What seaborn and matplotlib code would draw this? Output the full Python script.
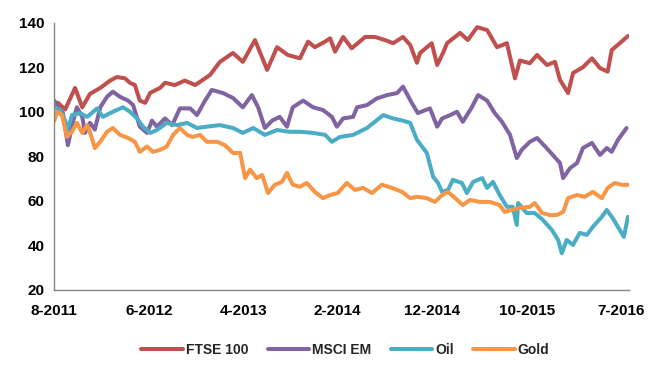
import matplotlib
matplotlib.use("Agg")
import matplotlib.pyplot as plt
import pandas as pd
import seaborn as sns

# trading-day index (0 = Aug 2011) and rebased values
ftse_day = [0, 8, 24, 46, 62, 79, 102, 124, 139, 157, 168, 179, 190, 202, 213, 235,
            246, 268, 290, 313, 324, 346, 368, 397, 419, 446, 473, 495, 519, 546,
            564, 579, 602, 613, 624, 642, 661, 691, 713, 735, 753, 775, 791, 806,
            813, 839, 851, 864, 873, 902, 919, 940, 962, 984, 1006, 1024, 1035,
            1057, 1073, 1095, 1113, 1124, 1142, 1153, 1175, 1195, 1213, 1230, 1239,
            1257, 1275]
ftse = [104, 104, 101, 110.7, 102, 108, 110.7, 114, 115.6, 115, 113, 112, 105, 104,
        108.5, 110.7, 113, 112, 114, 112, 113.5, 116.5, 122.4, 126.4, 122.4, 132.2,
        118.8, 129, 125.5, 124, 131.5, 129, 131.5, 133, 127, 133.6, 128.5, 133.6,
        133.6, 132.2, 130.8, 133.6, 130, 122, 126.4, 130.8, 121, 126.4, 130.8, 135.4,
        132.2, 138, 136.7, 129, 130.8, 115, 123, 121.8, 125.5, 121, 122.4, 114.3,
        108.4, 117.4, 120, 124, 119.6, 118, 127.7, 130.8, 134]

msci_day = [0, 8, 19, 30, 42, 50, 62, 68, 79, 90, 102, 117, 130, 146, 164, 175, 190,
            206, 217, 228, 246, 262, 279, 302, 317, 335, 350, 375, 397, 419, 439, 453,
            468, 484, 501, 517, 530, 553, 575, 597, 617, 628, 642, 664, 673, 695, 717,
            740, 762, 775, 795, 808, 835, 851, 862, 880, 895, 908, 928, 942, 962, 979,
            995, 1013, 1028, 1039, 1057, 1073, 1091, 1108, 1124, 1131, 1146, 1162,
            1175, 1195, 1213, 1228, 1239, 1253, 1272]
msci = [105, 102, 99.4, 85, 96, 102, 97.7, 90.5, 95, 92, 102, 106.7, 109, 106.7, 105,
        103, 93.3, 90.5, 96, 93.3, 97, 94, 101.5, 101.5, 98.5, 105, 109.8, 108.4,
        106.2, 102, 107.5, 102, 92.7, 96, 97.7, 93.3, 102, 105, 102, 100.8, 97.7,
        93.3, 97, 97.7, 102, 103, 106, 107.5, 108.4, 111.3, 103.8, 99.4, 101.5, 93.3,
        97, 98.5, 100, 95.5, 102, 107.5, 105, 99.4, 95.5, 89.6, 79.2, 82.9, 86.5,
        88.2, 84.4, 80.6, 77, 70.2, 74.6, 77, 83.7, 86, 80.6, 83.7, 82, 87.4, 92.7]

oil_day = [0, 13, 24, 30, 39, 57, 73, 95, 108, 124, 139, 153, 168, 184, 197, 213, 228,
           250, 273, 295, 317, 339, 368, 397, 419, 442, 468, 495, 523, 546, 575, 602,
           617, 635, 664, 695, 731, 753, 775, 791, 806, 828, 842, 853, 862, 875, 886,
           906, 917, 931, 951, 962, 975, 990, 1006, 1019, 1028, 1031, 1050, 1068,
           1086, 1106, 1120, 1128, 1139, 1153, 1168, 1184, 1197, 1217, 1228, 1241,
           1257, 1266, 1275]
oil = [102, 100.8, 96, 91.8, 98.5, 99.4, 97.7, 101.5, 97.7, 99.4, 100.8, 102, 100, 97,
       93.3, 90.5, 91.8, 95, 94, 95, 92.7, 93.3, 94, 92.7, 90.5, 92.7, 89.6, 91.8, 91,
       91, 90.5, 89.6, 86.5, 88.7, 89.6, 92.7, 98.5, 97, 96, 95, 87.4, 81.5, 70.8, 68,
       64, 64.9, 69.4, 68, 63.5, 68.5, 70.2, 65.8, 68.5, 62.6, 57.3, 57.3, 49.2, 59,
       54.5, 54.5, 51.4, 46.9, 42.4, 36.5, 42.4, 40.2, 45.6, 44.7, 48.3, 52.8, 55.9,
       52.3, 46.9, 43.8, 52.8]

gold_day = [0, 6, 17, 28, 39, 50, 62, 73, 79, 90, 102, 117, 130, 146, 164, 179, 190,
            206, 219, 235, 250, 264, 279, 295, 308, 324, 339, 362, 379, 397, 413, 424,
            435, 450, 462, 475, 490, 506, 517, 530, 546, 561, 579, 597, 613, 630, 650,
            668, 686, 706, 728, 751, 773, 791, 806, 828, 846, 862, 875, 891, 908, 924,
            946, 968, 990, 1001, 1017, 1035, 1057, 1068, 1084, 1102, 1117, 1131, 1142,
            1162, 1179, 1197, 1217, 1230, 1246, 1261, 1275]
gold = [96, 100, 98.5, 88.7, 91, 95, 90.5, 94, 91, 83.7, 86.5, 91, 92.7, 89.6, 88.2,
        86.5, 82, 84.4, 82, 82.9, 84.4, 89.6, 92.7, 89.6, 88.7, 89.6, 86.5, 86.5, 85,
        81.5, 81.5, 70.2, 74, 70.2, 71.6, 63.5, 67.2, 68.5, 72.5, 67.2, 66.3, 68, 64,
        61.2, 62.6, 63.5, 68, 64.9, 65.8, 63.5, 67.2, 65.8, 64, 61.2, 61.8, 61.2, 59.5,
        62.6, 64, 61.2, 58.1, 60.4, 59.5, 59.5, 58.1, 55, 55.9, 56.8, 57.3, 59, 54.5,
        53.6, 53.6, 55, 61.2, 62.6, 61.8, 64, 61.2, 65.8, 68, 67.2, 67.2]

tick_days = [0, 210, 420, 630, 840, 1050, 1260]
tick_labels = ["8-2011", "6-2012", "4-2013", "2-2014", "12-2014", "10-2015", "7-2016"]

series = ["FTSE 100", "MSCI EM", "Oil", "Gold"]
colors = ["#C0504D", "#8064A2", "#4BACC6", "#F79646"]

frames = []
for name, d, v in zip(series, [ftse_day, msci_day, oil_day, gold_day],
                      [ftse, msci, oil, gold]):
    frames.append(pd.DataFrame({"day": d, "value": v, "series": name}))
df = pd.concat(frames, ignore_index=True)

sns.set_style("white")
plt.rcParams["font.family"] = ["Liberation Sans", "DejaVu Sans"]

fig = plt.figure(figsize=(6.55, 3.66), dpi=100)
ax = fig.add_axes([0.083, 0.208, 0.877, 0.730])

sns.lineplot(
    data=df,
    x="day",
    y="value",
    hue="series",
    hue_order=series,
    palette=colors,
    estimator=None,
    linewidth=2.9,
    ax=ax
)

ax.set_xlim(0, 1277)
ax.set_ylim(20, 140)
ax.set_yticks(range(20, 141, 20))
ax.set_xticks(tick_days)
ax.set_xticklabels(tick_labels)
ax.set_xlabel("")
ax.set_ylabel("")

for side in ["top", "right"]:
    ax.spines[side].set_visible(False)
for side in ["left", "bottom"]:
    ax.spines[side].set_color("#868686")
    ax.spines[side].set_linewidth(1)

ax.tick_params(axis="both", direction="out", length=4, width=1, color="#868686",
               labelsize=11, labelcolor="#000000", pad=3)
ax.tick_params(axis="x", pad=6)
for lab in ax.get_xticklabels() + ax.get_yticklabels():
    lab.set_fontweight("bold")

handles, labels = ax.get_legend_handles_labels()
ax.get_legend().remove()
leg = fig.legend(handles, labels, loc="center", bbox_to_anchor=(0.527, 1 - 350 / 366),
                 ncol=4, frameon=False, fontsize=10, handlelength=3.0,
                 handletextpad=0.2, columnspacing=1.4)
for t in leg.get_texts():
    t.set_fontweight("bold")

fig.savefig("out.png", dpi=100)
